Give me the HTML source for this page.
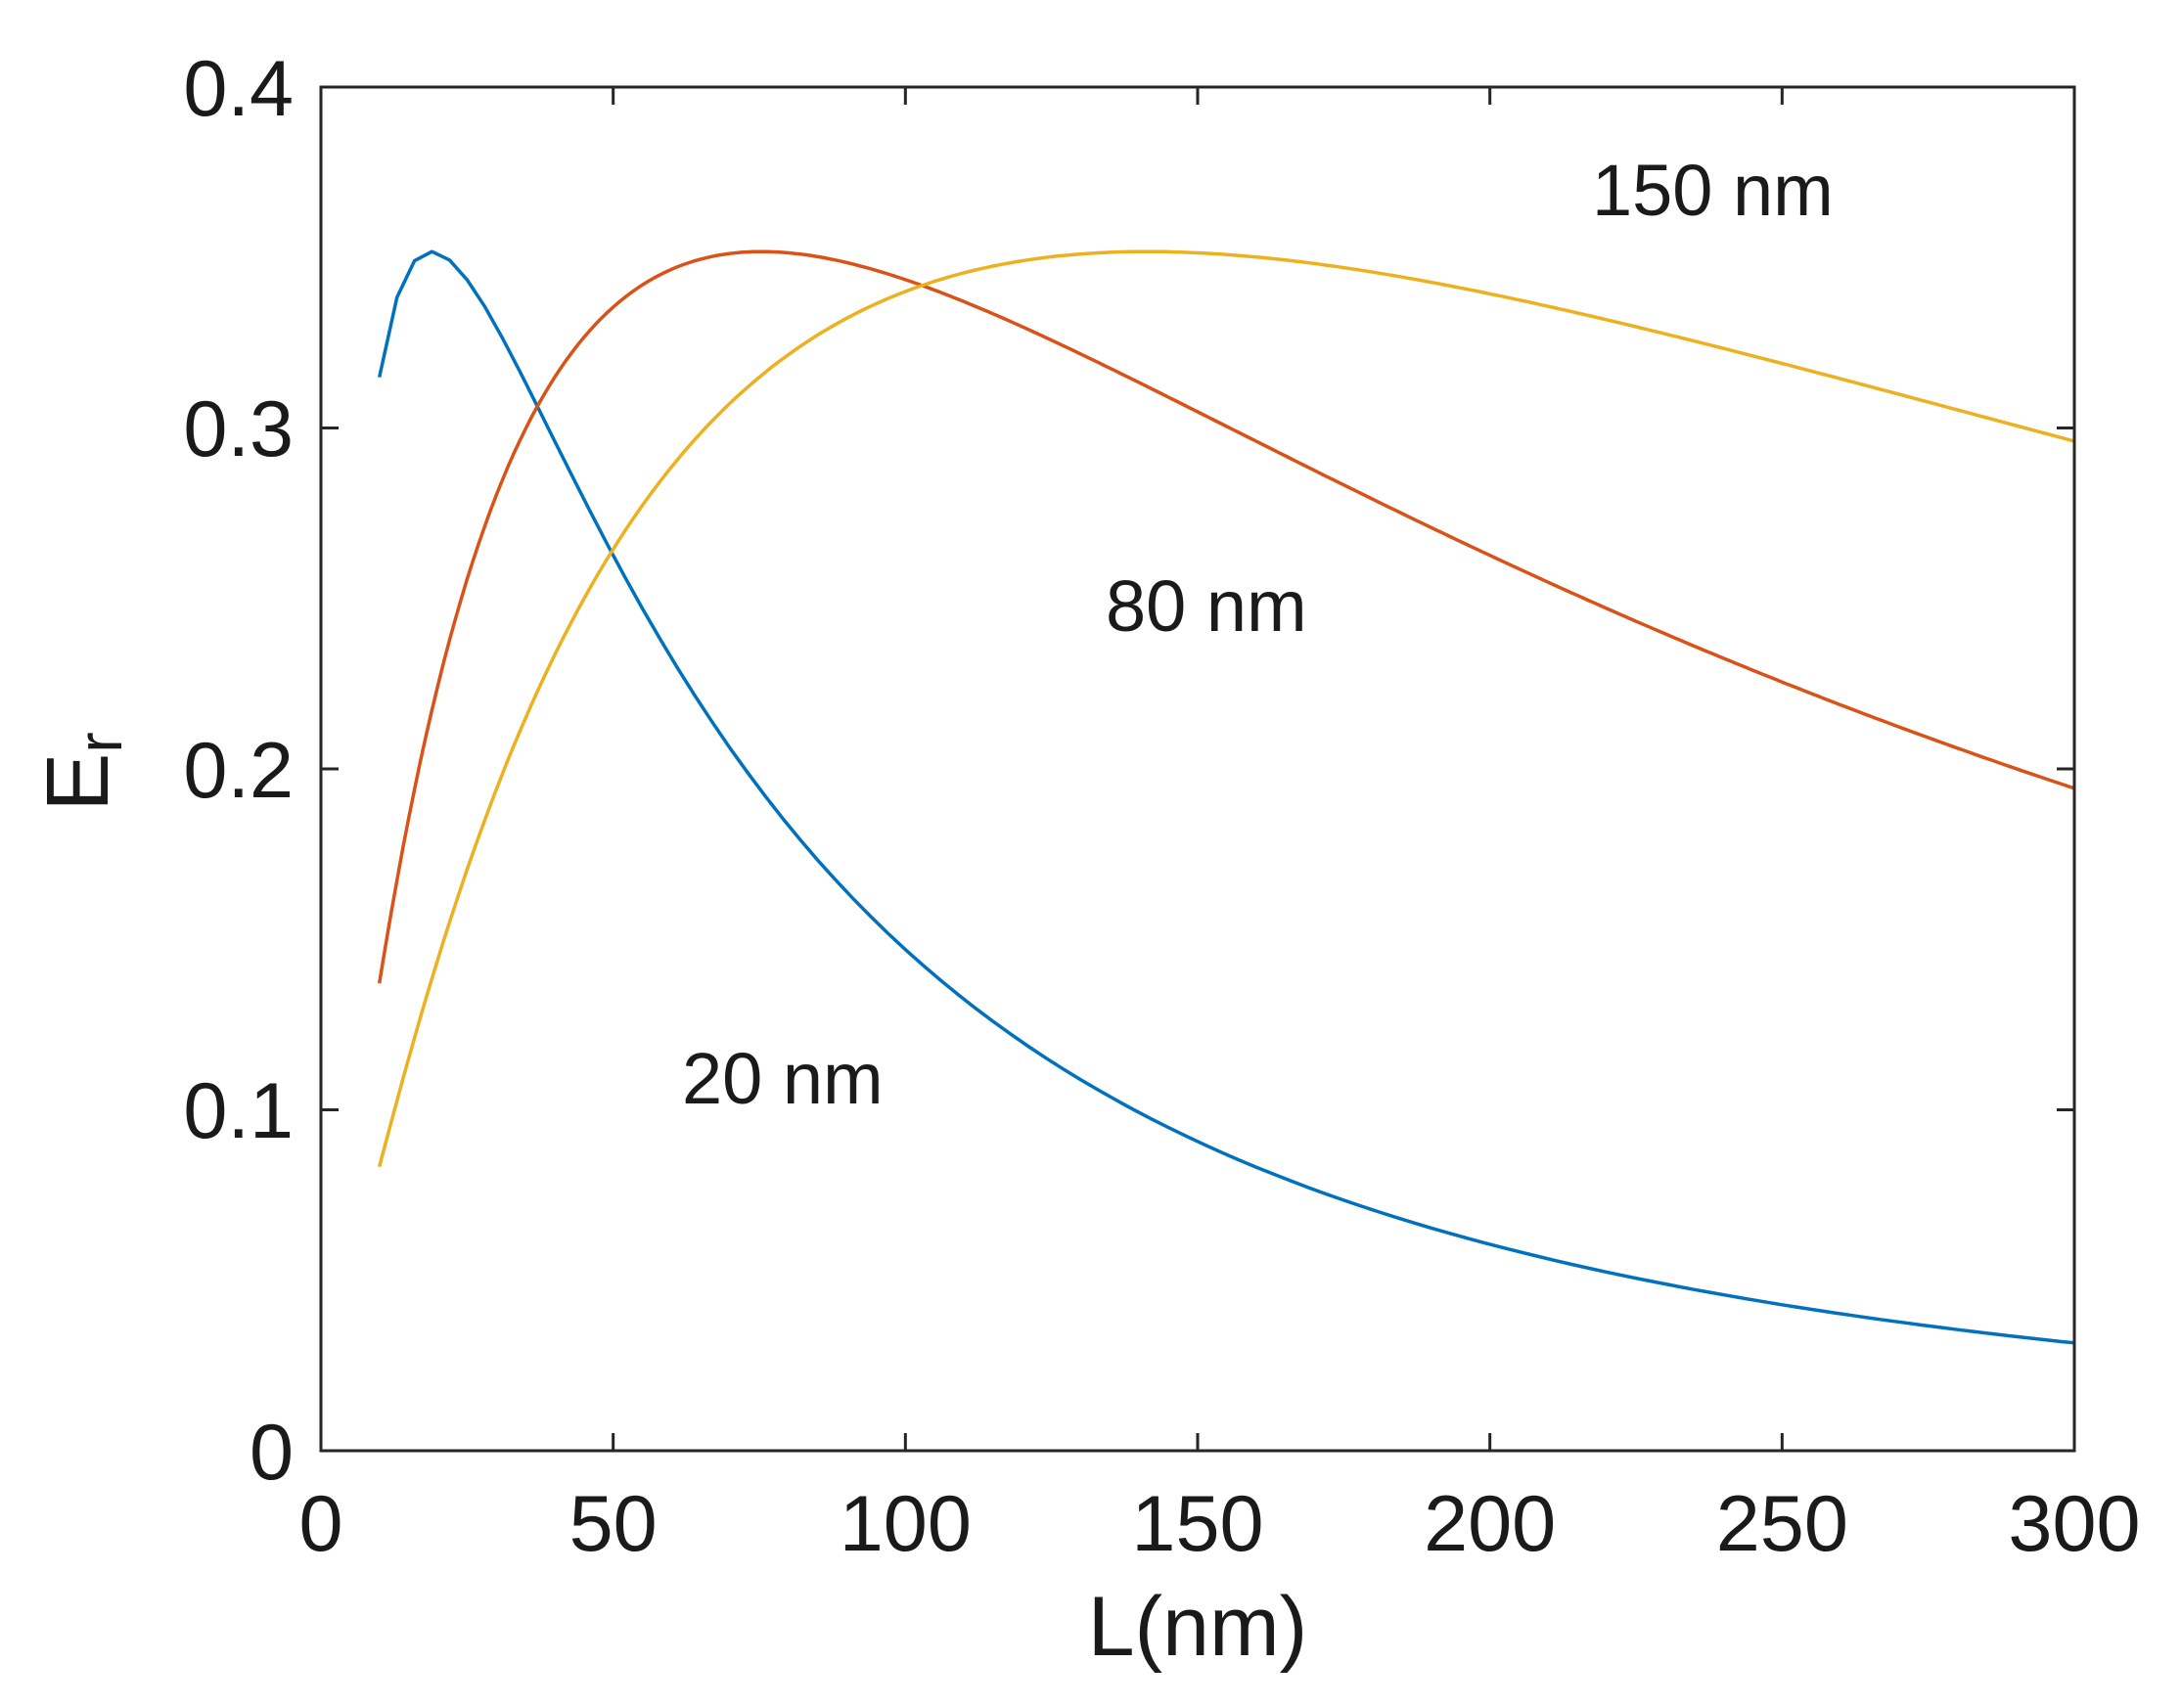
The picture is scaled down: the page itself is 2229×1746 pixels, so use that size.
<!DOCTYPE html>
<html><head><meta charset="utf-8"><style>
html,body{margin:0;padding:0;background:#fff;}
svg{display:block;}
text{font-family:"Liberation Sans",sans-serif;fill:#1a1a1a;}
</style></head><body>
<svg id="s" width="2229" height="1746" viewBox="0 0 2229 1746" xmlns="http://www.w3.org/2000/svg">
<rect width="2229" height="1746" fill="#fff"/>
<g id="curves" fill="none" stroke-width="3.5" stroke-linejoin="round"></g>
<rect x="328" y="89" width="1792" height="1394" fill="none" stroke="#262626" stroke-width="3"/>
<g stroke="#262626" stroke-width="3" id="ticks"></g>
<g font-size="81" text-anchor="end">
<text x="300" y="1512">0</text>
<text x="300" y="1163">0.1</text>
<text x="300" y="815">0.2</text>
<text x="300" y="466">0.3</text>
<text x="300" y="118">0.4</text>
</g>
<g font-size="81" text-anchor="middle" id="xl">
<text x="1224" y="1692" font-size="86">L(nm)</text>
</g>
<text font-size="90" transform="translate(110,789) rotate(-90)" text-anchor="middle">E<tspan font-size="64" dy="14">r</tspan></text>
<g font-size="74">
<text x="1627" y="220">150 nm</text>
<text x="1130" y="645">80 nm</text>
<text x="697" y="1128">20 nm</text>
</g>
</svg>
<script>
var R=[0.0667,0.125,0.25,0.333,0.5,0.667,0.97,1.4,1.875,2.5,3.75,5,7.5,10,12.5,15];
var E=[0.083,0.139,0.222,0.264,0.313,0.339,0.352,0.342,0.309,0.262,0.19,0.144,0.093,0.060,0.044,0.031];
var X=R.map(Math.log),Y=E.map(Math.log),D=5;
var n=D+1,A=[],b=[];
for(var i=0;i<n;i++){A.push(new Array(n).fill(0));b.push(0);}
for(var k=0;k<X.length;k++){for(var i=0;i<n;i++){b[i]+=Math.pow(X[k],i)*Y[k];for(var j=0;j<n;j++)A[i][j]+=Math.pow(X[k],i+j);}}
for(var i=0;i<n;i++){var p=i;for(var r=i+1;r<n;r++)if(Math.abs(A[r][i])>Math.abs(A[p][i]))p=r;
 var t=A[i];A[i]=A[p];A[p]=t;t=b[i];b[i]=b[p];b[p]=t;
 for(var r=0;r<n;r++){if(r==i)continue;var f=A[r][i]/A[i][i];for(var c=i;c<n;c++)A[r][c]-=f*A[i][c];b[r]-=f*b[i];}}
var C=b.map(function(v,i){return v/A[i][i];});
function fn(r){var x=Math.log(r),s=0;for(var i=0;i<n;i++)s+=C[i]*Math.pow(x,i);return Math.exp(s);}
function px(L){return 328+L/300*1792;}
function py(v){return 1483-v/0.4*1394;}
var g=document.getElementById('curves');
[[20,3,'#0072BD'],[80,1,'#D95319'],[150,1,'#EDB120']].forEach(function(c){
 var d='',L;for(L=10;L<=300.001;L+=c[1]){d+=(d?'L':'M')+px(L).toFixed(1)+' '+py(fn(L/c[0])).toFixed(1);}
 if(L-c[1]<299.9){d+='L'+px(300).toFixed(1)+' '+py(fn(300/c[0])).toFixed(1);}
 var p=document.createElementNS('http://www.w3.org/2000/svg','path');p.setAttribute('d',d);p.setAttribute('stroke',c[2]);g.appendChild(p);});
var t=document.getElementById('ticks'),s='';
for(var k=1;k<6;k++){var x=328+k*1792/6;s+='M'+x+' 1483V1465M'+x+' 89V107';}
for(var k=1;k<4;k++){var y=1483-k*348.5;s+='M328 '+y+'H346M2120 '+y+'H2102';}
var tp=document.createElementNS('http://www.w3.org/2000/svg','path');tp.setAttribute('d',s);t.appendChild(tp);
var xl=document.getElementById('xl');
[0,50,100,150,200,250,300].forEach(function(v){var e=document.createElementNS('http://www.w3.org/2000/svg','text');e.setAttribute('x',px(v));e.setAttribute('y',1585);e.textContent=v;xl.appendChild(e);});
</script>
</body></html>
